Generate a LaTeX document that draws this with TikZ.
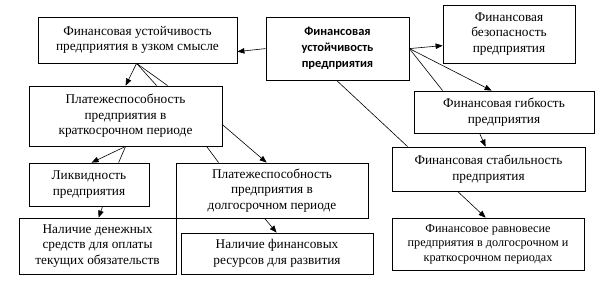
\documentclass[tikz,border=0pt]{standalone}
\usepackage{fontspec}
\setmainfont{Liberation Serif}
\newfontfamily\serfont{Liberation Serif}
\newfontfamily\centfont{Carlito}
\usetikzlibrary{arrows.meta,calc}
\begin{document}
\begin{tikzpicture}[x=1pt,y=-1pt,
  box/.style={draw,line width=0.8pt,inner sep=0pt,align=center,
    font=\serfont\fontsize{13.3}{15.5}\selectfont},
  arr/.style={-{Triangle[length=7pt,width=5.5pt]},line width=0.6pt},
  ln/.style={line width=0.6pt}]
\useasboundingbox (0,0) rectangle (607,281);
\node[box,minimum width=199,minimum height=46] (narrow) at (137.5,40) {Финансовая устойчивость\\предприятия в узком смысле};
\node[box,minimum width=143,minimum height=63,font=\centfont\bfseries\fontsize{12.5}{16}\selectfont] (central) at (337.5,48.5) {Финансовая\\устойчивость\\предприятия};
\node[box,minimum width=193,minimum height=60] (short) at (125.5,116) {Платежеспособность\\предприятия в\\краткосрочном периоде};
\node[box,minimum width=120,minimum height=43] (liquid) at (89,184.5) {Ликвидность\\предприятия};
\node[box,minimum width=192,minimum height=55] (long) at (272,190.5) {Платежеспособность\\предприятия в\\долгосрочном периоде};
\node[box,minimum width=157,minimum height=56] (cash) at (97.5,246) {Наличие денежных\\средств для оплаты\\текущих обязательств};
\node[box,minimum width=192,minimum height=41] (finres) at (277,253.5) {Наличие финансовых\\ресурсов для развития};
\node[box,minimum width=132,minimum height=58] (safety) at (509,34) {Финансовая\\безопасность\\предприятия};
\node[box,minimum width=180,minimum height=42] (flex) at (504,112) {Финансовая гибкость\\предприятия};
\node[box,minimum width=193,minimum height=44] (stab) at (488.5,169) {Финансовая стабильность\\предприятия};
\node[box,minimum width=192,minimum height=52,font=\serfont\fontsize{12.2}{14.5}\selectfont] (equil) at (488,244) {Финансовое равновесие\\предприятия в долгосрочном и\\краткосрочном периодах};
% connectors
\draw[arr] ($(central.north west)+(0,32)$) -- ($(narrow.north east)+(0,35)$);
\coordinate (nb) at ($(narrow.south west)+(99,0)$);
\draw[arr] (nb) -- ($(short.north west)+(97,0)$);
\draw[ln] (nb) -- ($(short.north west)+(128,0)$);
\draw[ln] (nb) -- ($(short.north west)+(139,0)$);
\draw[arr] ($(short.north east)+(0,39)$) -- ($(long.north west)+(91,0)$);
\coordinate (sb) at ($(short.south west)+(97,0)$);
\draw[arr] (sb) -- ($(liquid.north west)+(63,0)$);
\draw[ln] (sb) -- ($(liquid.north west)+(90,0)$);
\draw[ln] ($(short.south west)+(178,0)$) -- ($(long.north west)+(43,0)$);
\draw[arr] ($(liquid.south west)+(74,0)$) -- ($(cash.north west)+(80,0)$);
\draw[arr] ($(long.south west)+(89,0)$) -- ($(finres.north west)+(96,0)$);
\coordinate (cr) at ($(central.north east)+(0,32)$);
\draw[arr] (cr) -- ($(safety.north west)+(0,41)$);
\draw[arr] (cr) -- ($(flex.north west)+(78,0)$);
\draw[ln] (cr) -- ($(flex.north west)+(29,0)$);
\draw[ln] ($(central.south west)+(71,0)$) -- ($(stab.north west)+(16,0)$);
\draw[arr] ($(flex.south west)+(66,0)$) -- ($(stab.north west)+(94,0)$);
\draw[arr] ($(stab.south west)+(66,0)$) -- ($(equil.north west)+(94,0)$);
\end{tikzpicture}
\end{document}
